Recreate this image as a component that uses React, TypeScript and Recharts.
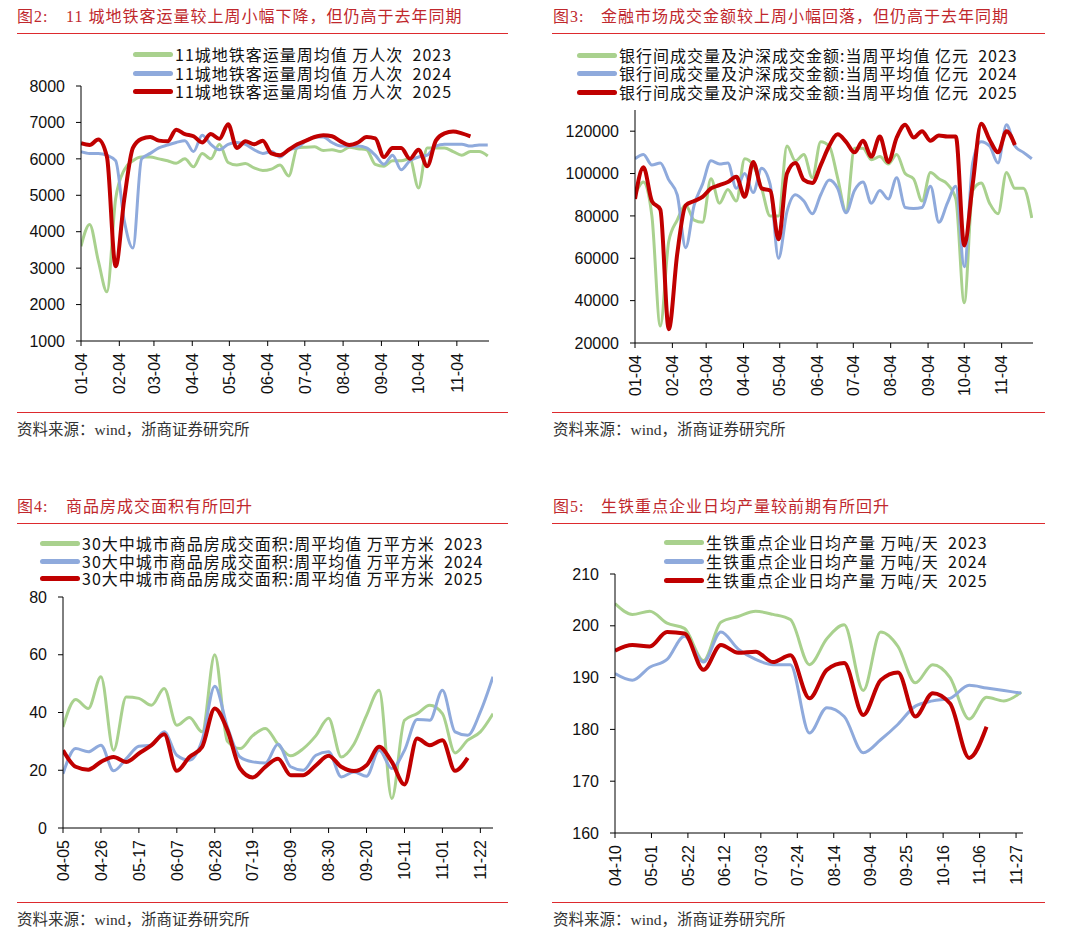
import React from "react";
import { LineChart, Line, XAxis, YAxis } from "recharts";

const SANS = '"Liberation Sans", Arial, sans-serif';
const CJK = '"Noto Sans CJK SC", sans-serif';
const SERIF = '"Liberation Serif", "Noto Sans CJK SC", serif';

const GREEN = "#A9D18E";
const BLUE = "#8FAADC";
const RED = "#C00000";
const TITLE_RED = "#C0282D";
const RULE_RED = "#DD2A2E";
const YEARS = ["2023", "2024", "2025"];

// 图2 地铁客运量 (weekly, from 01-04)
const METRO_TICKS = ["01-04", "02-04", "03-04", "04-04", "05-04", "06-04", "07-04", "08-04", "09-04", "10-04", "11-04"];
const metro2023 = [3600, 4200, 3200, 2350, 4900, 5700, 5950, 6050, 6050, 6000, 5950, 5880, 6000, 5780, 6150, 6000, 6400, 5900, 5830, 5870, 5750, 5680, 5720, 5830, 5530, 6300, 6320, 6330, 6230, 6250, 6200, 6320, 6280, 6250, 5850, 5800, 5950, 5950, 6000, 5200, 6300, 6300, 6300, 6200, 6100, 6200, 6200, 6080];
const metro2024 = [6200, 6150, 6150, 6100, 5950, 4300, 3550, 6000, 6150, 6300, 6380, 6450, 6500, 6200, 6650, 6400, 6250, 6400, 6450, 6400, 6250, 6150, 6200, 6050, 6250, 6300, 6500, 6600, 6600, 6450, 6350, 6350, 6350, 6300, 6100, 5850, 6100, 5700, 5950, 6050, 6100, 6350, 6400, 6400, 6400, 6350, 6380, 6380];
const metro2025 = [6430, 6380, 6530, 6050, 3050, 4900, 6300, 6550, 6600, 6500, 6480, 6800, 6680, 6620, 6450, 6680, 6550, 6950, 6300, 6480, 6400, 6500, 6150, 6100, 6250, 6400, 6500, 6600, 6650, 6620, 6480, 6380, 6450, 6600, 6560, 6050, 6300, 6300, 6000, 6250, 5800, 6500, 6700, 6750, 6700, 6620];

// 图3 金融市场成交金额 (weekly, from 01-04)
const fin2023 = [90000, 96000, 80000, 28000, 68000, 78000, 85000, 78000, 77000, 97500, 86000, 92500, 87000, 107000, 104000, 93000, 80000, 80000, 113000, 106000, 109000, 98000, 115000, 113000, 98000, 82000, 112000, 112000, 106500, 108000, 104500, 109000, 100000, 97500, 87000, 100500, 97500, 95000, 88000, 39000, 92000, 95500, 86000, 81000, 100500, 93000, 93000, 79000];
const fin2024 = [107000, 109000, 104000, 105000, 97000, 90000, 65000, 85000, 95000, 106000, 104500, 105000, 93000, 100000, 91000, 102500, 95000, 60000, 82000, 90000, 87000, 81000, 90000, 97000, 93000, 81500, 92000, 96000, 86000, 92000, 88000, 98000, 84000, 83500, 84000, 94000, 77000, 86000, 94000, 56000, 105000, 115000, 113000, 105000, 123000, 113000, 110000, 107000];
const fin2025 = [88000, 103000, 87000, 83000, 26500, 62000, 85000, 87000, 89000, 93000, 94500, 96000, 98500, 89000, 105500, 93000, 92000, 69000, 100000, 105000, 97000, 95500, 104000, 113000, 118500, 115000, 110000, 115500, 108000, 117500, 105500, 117000, 123000, 117000, 120000, 115500, 118000, 117500, 117500, 66000, 95000, 123500, 116000, 110000, 120000, 113500];

// 图4 商品房成交面积 (weekly, from 04-05)
const house2023 = [35, 44.5, 41.4, 52.4, 26.9, 45.4, 44.9, 42.5, 48.3, 35.6, 38.3, 33.3, 60, 30, 27.5, 32, 34.5, 29, 25, 27.5, 32, 38, 24.6, 29, 39, 47.7, 10.2, 37.3, 39.6, 42.5, 39.6, 26, 30.4, 33.3, 39.6];
const house2024 = [18.8, 27.5, 26.4, 28.7, 19.8, 24, 28.3, 28.7, 33.3, 25.2, 23.5, 30.4, 49.1, 35, 24.6, 22.9, 22.5, 29, 21.2, 20, 25.2, 26.4, 17.7, 19.4, 17.9, 26.9, 20.6, 26.9, 37.6, 37.3, 47.7, 33.3, 32.1, 40.2, 52.4];
const house2025 = [26.9, 21.2, 20.2, 22.9, 24.6, 22.9, 25.8, 28.7, 32.5, 19.8, 24.6, 28.1, 41.4, 33.9, 20.6, 17.5, 21.2, 24, 18.3, 18.3, 21.7, 25, 21.2, 19.7, 21.7, 28.1, 22.9, 15.1, 31, 28.7, 30.4, 19.8, 24.3];

// 图5 生铁日均产量 (dekads, from 04-10)
const IRON_DATES = ["04-10", "04-20", "04-30", "05-10", "05-20", "05-31", "06-10", "06-20", "06-30", "07-10", "07-20", "07-31", "08-10", "08-20", "08-31", "09-10", "09-20", "09-30", "10-10", "10-20", "10-31", "11-10", "11-20", "11-30"];
const IRON_TICKS = ["04-10", "05-01", "05-22", "06-12", "07-03", "07-24", "08-14", "09-04", "09-25", "10-16", "11-06", "11-27"];
const iron2023 = [204.3, 202.2, 202.8, 200.5, 199.5, 193.3, 200.7, 201.8, 202.8, 202.2, 201.2, 192.5, 197.5, 200.2, 187.5, 198.8, 196, 189, 192.5, 190, 182, 186.2, 185.5, 187.2];
const iron2024 = [190.8, 189.5, 192, 193.5, 198, 193, 198.8, 195.5, 193.5, 192.5, 192.5, 179.3, 184.2, 182.5, 175.5, 178, 181, 184.5, 185.5, 186, 188.5, 188, 187.5, 187];
const iron2025 = [195.2, 196.3, 196, 198.8, 198.5, 191.5, 196.3, 194.8, 195, 193, 194.3, 186, 191.5, 192.8, 182.8, 189.5, 191, 182.5, 187, 185, 174.5, 180.5];

function dayOf(md: string, base: string) {
  const [m, d] = md.split("-").map(Number);
  const [bm, bd] = base.split("-").map(Number);
  return Math.round((Date.UTC(2025, m - 1, d) - Date.UTC(2025, bm - 1, bd)) / 86400000);
}

function mdAfter(base: string, days: number) {
  const [bm, bd] = base.split("-").map(Number);
  const t = new Date(Date.UTC(2025, bm - 1, bd) + days * 86400000);
  const mm = String(t.getUTCMonth() + 1).padStart(2, "0");
  const dd = String(t.getUTCDate()).padStart(2, "0");
  return `${mm}-${dd}`;
}

type Row = { x: number; y2023?: number; y2024?: number; y2025?: number };

function buildRows(xs: number[], a: number[], b: number[], c: number[]): Row[] {
  return xs.map((x, i) => ({ x, y2023: a[i], y2024: b[i], y2025: c[i] }));
}

const weeklyDays = (n: number) => Array.from({ length: n }, (_, i) => i * 7);

const metroRows = buildRows(weeklyDays(48), metro2023, metro2024, metro2025);
const finRows = buildRows(weeklyDays(48), fin2023, fin2024, fin2025);
const houseRows = buildRows(Array.from({ length: 35 }, (_, i) => i), house2023, house2024, house2025);
const ironRows = buildRows(IRON_DATES.map((d) => dayOf(d, "04-10")), iron2023, iron2024, iron2025);

const metroTickDays = METRO_TICKS.map((d) => dayOf(d, "01-04"));
const houseTicks = Array.from({ length: 12 }, (_, k) => k * 3);
const ironTickDays = IRON_TICKS.map((d) => dayOf(d, "04-10"));

function RotTick(props: any) {
  const { x, y, payload, fmt } = props;
  return (
    <text
      x={x}
      y={y}
      transform={`rotate(-90 ${x} ${y})`}
      textAnchor="end"
      dy="0.36em"
      fontSize={16}
      fontFamily={SANS}
      fill="#111"
    >
      {fmt(payload.value)}
    </text>
  );
}

type PanelProps = {
  left: number;
  top: number;
  rows: Row[];
  margin: { top: number; right: number; bottom: number; left: number };
  yWidth: number;
  yDomain: [number, number];
  yTicks: number[];
  xDomain: [number, number];
  xTicks: number[];
  xFmt: (v: number) => string;
};

function ChartBox(p: PanelProps) {
  return (
    <div style={{ position: "absolute", left: p.left, top: p.top }}>
      <LineChart width={540} height={420} data={p.rows} margin={p.margin}>
        <XAxis
          type="number"
          dataKey="x"
          domain={p.xDomain}
          ticks={p.xTicks}
          interval={0}
          allowDataOverflow
          height={60}
          tickSize={5}
          tickMargin={7}
          axisLine={{ stroke: "#000" }}
          tickLine={{ stroke: "#000" }}
          tick={(t: any) => <RotTick {...t} fmt={p.xFmt} />}
        />
        <YAxis
          type="number"
          domain={p.yDomain}
          ticks={p.yTicks}
          interval={0}
          allowDataOverflow
          width={p.yWidth}
          tickSize={5}
          tickMargin={11}
          axisLine={{ stroke: "#000" }}
          tickLine={{ stroke: "#000" }}
          tick={{ fontSize: 16, fontFamily: SANS, fill: "#111" }}
        />
        <Line type="monotone" dataKey="y2023" stroke={GREEN} strokeWidth={3} dot={false} activeDot={false} isAnimationActive={false} />
        <Line type="monotone" dataKey="y2024" stroke={BLUE} strokeWidth={3} dot={false} activeDot={false} isAnimationActive={false} />
        <Line type="monotone" dataKey="y2025" stroke={RED} strokeWidth={4} dot={false} activeDot={false} isAnimationActive={false} />
      </LineChart>
    </div>
  );
}

function Header({ x, y, num, text, textX }: { x: number; y: number; num: string; text: string; textX: number }) {
  const base: React.CSSProperties = {
    position: "absolute",
    top: y - 9,
    fontFamily: SERIF,
    fontSize: 16,
    lineHeight: "18px",
    color: TITLE_RED,
    whiteSpace: "pre",
    letterSpacing: 1,
  };
  return (
    <>
      <div style={{ ...base, left: x }}>{`图${num}:`}</div>
      <div style={{ ...base, left: textX }}>{text}</div>
    </>
  );
}

function Rule({ x, y, w }: { x: number; y: number; w: number }) {
  return <div style={{ position: "absolute", left: x, top: y, width: w, height: 1, background: RULE_RED }} />;
}

function Source({ x, y }: { x: number; y: number }) {
  return (
    <div
      style={{
        position: "absolute",
        left: x,
        top: y - 8,
        fontFamily: SERIF,
        fontSize: 15.5,
        lineHeight: "16px",
        color: "#333",
        whiteSpace: "pre",
      }}
    >
      资料来源：wind，浙商证券研究所
    </div>
  );
}

function LegendBox({ x, ys, label }: { x: number; ys: number[]; label: string }) {
  const colors = [GREEN, BLUE, RED];
  return (
    <>
      {YEARS.map((yr, i) => (
        <React.Fragment key={yr}>
          <div
            style={{
              position: "absolute",
              left: x,
              top: ys[i] - 2.5,
              width: 40,
              height: 5,
              borderRadius: 3,
              background: colors[i],
            }}
          />
          <div
            style={{
              position: "absolute",
              left: x + 42,
              top: ys[i] - 8,
              fontFamily: CJK,
              fontSize: 16,
              lineHeight: "16px",
              letterSpacing: 1,
              color: "#111",
              whiteSpace: "pre",
            }}
          >
            {`${label}  ${yr}`}
          </div>
        </React.Fragment>
      ))}
    </>
  );
}

export default function App() {
  return (
    <div style={{ position: "absolute", left: 0, top: 0, width: 1080, height: 939, background: "#fff", overflow: "hidden" }}>
      {/* 图2 */}
      <ChartBox
        left={0}
        top={0}
        rows={metroRows}
        margin={{ top: 86, right: 51, bottom: 19, left: 21 }}
        yWidth={60}
        yDomain={[1000, 8000]}
        yTicks={[1000, 2000, 3000, 4000, 5000, 6000, 7000, 8000]}
        xDomain={[0, 330]}
        xTicks={metroTickDays}
        xFmt={(v) => mdAfter("01-04", v)}
      />
      <Header x={17} y={17} num="2" textX={66} text="11 城地铁客运量较上周小幅下降，但仍高于去年同期" />
      <Rule x={17} y={33} w={491} />
      <LegendBox x={133} ys={[54, 73, 91]} label="11城地铁客运量周均值 万人次" />
      <Rule x={17} y={412} w={491} />
      <Source x={17} y={430} />

      {/* 图3 */}
      <ChartBox
        left={540}
        top={0}
        rows={finRows}
        margin={{ top: 110, right: 47, bottom: 17, left: 25 }}
        yWidth={70}
        yDomain={[20000, 130000]}
        yTicks={[20000, 40000, 60000, 80000, 100000, 120000]}
        xDomain={[0, 330]}
        xTicks={metroTickDays}
        xFmt={(v) => mdAfter("01-04", v)}
      />
      <Header x={553} y={17} num="3" textX={601} text="金融市场成交金额较上周小幅回落，但仍高于去年同期" />
      <Rule x={552} y={33} w={493} />
      <LegendBox x={577} ys={[55, 73, 92]} label="银行间成交量及沪深成交金额:当周平均值 亿元" />
      <Rule x={552} y={412} w={493} />
      <Source x={553} y={430} />

      {/* 图4 */}
      <ChartBox
        left={0}
        top={490}
        rows={houseRows}
        margin={{ top: 107, right: 47, bottom: 22, left: 13 }}
        yWidth={50}
        yDomain={[0, 80]}
        yTicks={[0, 20, 40, 60, 80]}
        xDomain={[0, 34]}
        xTicks={houseTicks}
        xFmt={(v) => mdAfter("04-05", v * 7)}
      />
      <Header x={17} y={507} num="4" textX={66} text="商品房成交面积有所回升" />
      <Rule x={17} y={523} w={491} />
      <LegendBox x={40} ys={[543, 561, 578]} label="30大中城市商品房成交面积:周平均值 万平方米" />
      <Rule x={17} y={902} w={491} />
      <Source x={17} y={920} />

      {/* 图5 */}
      <ChartBox
        left={540}
        top={490}
        rows={ironRows}
        margin={{ top: 84, right: 57, bottom: 17, left: 20 }}
        yWidth={55}
        yDomain={[160, 210]}
        yTicks={[160, 170, 180, 190, 200, 210]}
        xDomain={[0, 235]}
        xTicks={ironTickDays}
        xFmt={(v) => mdAfter("04-10", v)}
      />
      <Header x={553} y={507} num="5" textX={601} text="生铁重点企业日均产量较前期有所回升" />
      <Rule x={552} y={523} w={493} />
      <LegendBox x={664} ys={[542, 561, 580]} label="生铁重点企业日均产量 万吨/天" />
      <Rule x={552} y={902} w={493} />
      <Source x={553} y={920} />
    </div>
  );
}
